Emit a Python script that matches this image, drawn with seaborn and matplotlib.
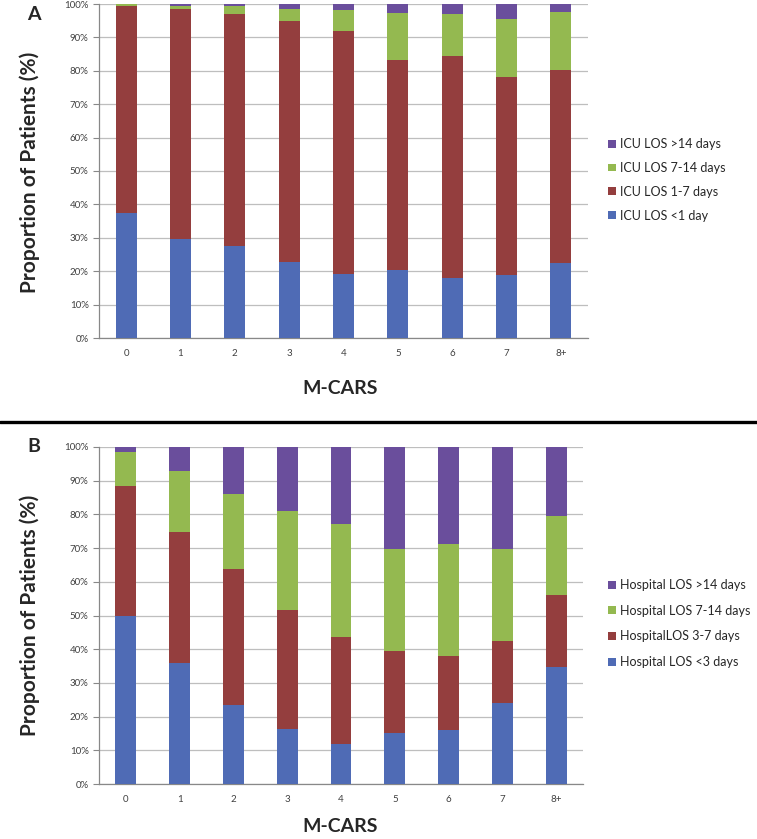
import numpy as np
import pandas as pd
from matplotlib import pyplot as plt
from matplotlib.lines import Line2D
from matplotlib.patches import Patch
import seaborn as sns

sns.set_style('white')
plt.rcParams['font.family'] = ['Lato', 'DejaVu Sans']

mcars = ['0', '1', '2', '3', '4', '5', '6', '7', '8+']

# panel A: ICU length of stay (%)
icu_lt1 = [37.3, 29.5, 27.6, 22.9, 19.2, 20.3, 18.1, 19.0, 22.4]
icu_1_7 = [62.0, 69.0, 69.5, 72.1, 72.8, 62.8, 66.2, 59.1, 57.8]
icu_7_14 = [0.7, 1.0, 2.2, 3.6, 6.2, 14.2, 12.8, 17.3, 17.4]
icu_gt14 = [0.0, 0.5, 0.7, 1.4, 1.8, 2.7, 2.9, 4.6, 2.4]
icu_labels = ['ICU LOS <1 day', 'ICU LOS 1-7 days', 'ICU LOS 7-14 days', 'ICU LOS >14 days']

# panel B: hospital length of stay (%)
hosp_lt3 = [50.0, 36.0, 23.3, 16.4, 11.9, 15.0, 16.0, 24.1, 34.8]
hosp_3_7 = [38.4, 38.8, 40.4, 35.2, 31.6, 24.5, 22.1, 18.4, 21.4]
hosp_7_14 = [10.1, 18.1, 22.5, 29.4, 33.6, 30.1, 33.0, 27.1, 23.3]
hosp_gt14 = [1.5, 7.1, 13.8, 19.0, 22.9, 30.4, 28.9, 30.4, 20.5]
hosp_labels = ['Hospital LOS <3 days', 'HospitalLOS 3-7 days', 'Hospital LOS 7-14 days', 'Hospital LOS >14 days']

colors = ['#4F6BB5', '#943E3E', '#94B950', '#6A4E9C']

W, H = 757, 839
fig = plt.figure(figsize=(W / 100, H / 100), dpi=100)


def px(x0, y0, x1, y1):
    # pixel box -> figure fraction rect
    return [x0 / W, 1 - y1 / H, (x1 - x0) / W, (y1 - y0) / H]


def stacked(ax, series, labels, leg_y, leg_gap, leg_fs):
    df = pd.DataFrame(dict(zip(labels, series)), index=mcars)
    cum = df.cumsum(axis=1)
    # draw tallest stack first, smaller ones on top
    for lab, c in zip(labels[::-1], colors[::-1]):
        sns.barplot(x=mcars, y=cum[lab].values, color=c, width=0.39,
                    saturation=1, linewidth=0, ax=ax, zorder=3)
    ax.set_xlim(-0.5, 8.5)
    ax.set_ylim(0, 100)
    ax.set_yticks(np.arange(0, 101, 10))
    ax.set_yticklabels([f'{v}%' for v in range(0, 101, 10)])
    ax.grid(axis='y', color='#BEBEBE', linewidth=0.9, zorder=0)
    ax.set_axisbelow(True)
    for s in ['top', 'right']:
        ax.spines[s].set_visible(False)
    for s in ['left', 'bottom']:
        ax.spines[s].set_color('#888888')
        ax.spines[s].set_linewidth(0.9)
    ax.set_xticks(np.arange(-0.5, 9, 1), minor=True)
    ax.tick_params(axis='x', which='major', length=0, labelsize=7, labelcolor='#404040', pad=8)
    ax.tick_params(axis='x', which='minor', length=4, color='#888888', direction='out')
    ax.tick_params(axis='y', length=4, color='#888888', direction='out', labelsize=7,
                   labelcolor='#404040', left=True)
    ax.set_xlabel('')
    ax.set_ylabel('')
    handles = [Patch(facecolor=c, edgecolor='none') for c in colors[::-1]]
    fig.legend(handles, labels[::-1], loc='upper left', frameon=False,
               bbox_to_anchor=(603 / W, 1 - leg_y / H), fontsize=leg_fs,
               handlelength=0.6, handleheight=0.6, handletextpad=0.4,
               labelspacing=leg_gap, borderaxespad=0)


axA = fig.add_axes(px(99, 4, 588, 338))
stacked(axA, [icu_lt1, icu_1_7, icu_7_14, icu_gt14], icu_labels, 133, 0.95, 9.0)

axB = fig.add_axes(px(99, 447, 583, 784))
stacked(axB, [hosp_lt3, hosp_3_7, hosp_7_14, hosp_gt14], hosp_labels, 574, 1.1, 9.0)

# labels
fig.text(27 / W, 1 - 15 / H, 'A', fontsize=14, fontweight='bold', ha='left', va='center')
fig.text(27 / W, 1 - 446 / H, 'B', fontsize=14, fontweight='bold', ha='left', va='center')
fig.text(30 / W, 1 - 172 / H, 'Proportion of Patients (%)', fontsize=15, fontweight='bold',
         rotation=90, ha='center', va='center')
fig.text(30 / W, 1 - 615 / H, 'Proportion of Patients (%)', fontsize=15, fontweight='bold',
         rotation=90, ha='center', va='center')
fig.text(340 / W, 1 - 388 / H, 'M-CARS', fontsize=14, fontweight='bold', ha='center', va='center')
fig.text(340 / W, 1 - 826 / H, 'M-CARS', fontsize=14, fontweight='bold', ha='center', va='center')

# divider between panels
fig.add_artist(Line2D([0, 1], [1 - 422 / H, 1 - 422 / H], color='black', linewidth=2.4))

plt.savefig('out.png', dpi=100)
